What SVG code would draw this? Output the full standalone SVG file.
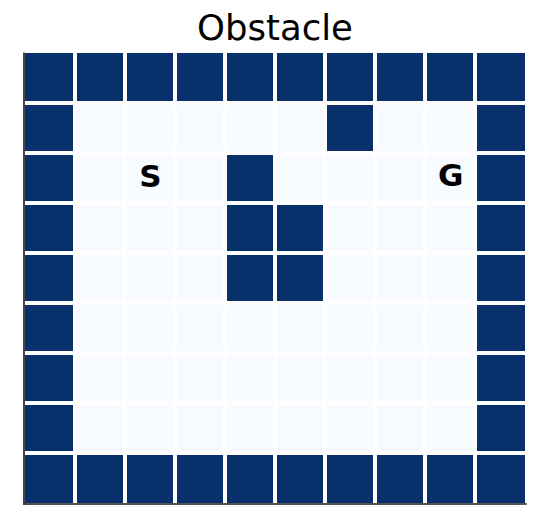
<svg xmlns="http://www.w3.org/2000/svg" width="540" height="528" viewBox="0 0 540 528">
<style>
.d{fill:#08306b}
.l{fill:#f7fbff}
.spine{stroke:#1a1a1a;stroke-width:1.6;fill:none}
.title{font-family:"DejaVu Sans",sans-serif;font-size:35.5px;fill:#000;text-anchor:middle}
.lbl{font-family:"DejaVu Sans",sans-serif;font-size:31px;font-weight:bold;fill:#000;text-anchor:middle}
</style>
<rect width="540" height="528" fill="#fff"/>
<text class="title" x="275" y="40">Obstacle</text>
<g id="row0">
<rect class="d" x="25" y="53" width="48" height="48"/>
<rect class="d" x="77" y="53" width="46" height="48"/>
<rect class="d" x="127" y="53" width="46" height="48"/>
<rect class="d" x="177" y="53" width="46" height="48"/>
<rect class="d" x="227" y="53" width="46" height="48"/>
<rect class="d" x="277" y="53" width="46" height="48"/>
<rect class="d" x="327" y="53" width="46" height="48"/>
<rect class="d" x="377" y="53" width="46" height="48"/>
<rect class="d" x="427" y="53" width="46" height="48"/>
<rect class="d" x="477" y="53" width="48" height="48"/>
</g>
<g id="row1">
<rect class="d" x="25" y="105" width="48" height="46"/>
<rect class="l" x="77" y="105" width="46" height="46"/>
<rect class="l" x="127" y="105" width="46" height="46"/>
<rect class="l" x="177" y="105" width="46" height="46"/>
<rect class="l" x="227" y="105" width="46" height="46"/>
<rect class="l" x="277" y="105" width="46" height="46"/>
<rect class="d" x="327" y="105" width="46" height="46"/>
<rect class="l" x="377" y="105" width="46" height="46"/>
<rect class="l" x="427" y="105" width="46" height="46"/>
<rect class="d" x="477" y="105" width="48" height="46"/>
</g>
<g id="row2">
<rect class="d" x="25" y="155" width="48" height="46"/>
<rect class="l" x="77" y="155" width="46" height="46"/>
<rect class="l" x="127" y="155" width="46" height="46"/>
<rect class="l" x="177" y="155" width="46" height="46"/>
<rect class="d" x="227" y="155" width="46" height="46"/>
<rect class="l" x="277" y="155" width="46" height="46"/>
<rect class="l" x="327" y="155" width="46" height="46"/>
<rect class="l" x="377" y="155" width="46" height="46"/>
<rect class="l" x="427" y="155" width="46" height="46"/>
<rect class="d" x="477" y="155" width="48" height="46"/>
</g>
<g id="row3">
<rect class="d" x="25" y="205" width="48" height="46"/>
<rect class="l" x="77" y="205" width="46" height="46"/>
<rect class="l" x="127" y="205" width="46" height="46"/>
<rect class="l" x="177" y="205" width="46" height="46"/>
<rect class="d" x="227" y="205" width="46" height="46"/>
<rect class="d" x="277" y="205" width="46" height="46"/>
<rect class="l" x="327" y="205" width="46" height="46"/>
<rect class="l" x="377" y="205" width="46" height="46"/>
<rect class="l" x="427" y="205" width="46" height="46"/>
<rect class="d" x="477" y="205" width="48" height="46"/>
</g>
<g id="row4">
<rect class="d" x="25" y="255" width="48" height="46"/>
<rect class="l" x="77" y="255" width="46" height="46"/>
<rect class="l" x="127" y="255" width="46" height="46"/>
<rect class="l" x="177" y="255" width="46" height="46"/>
<rect class="d" x="227" y="255" width="46" height="46"/>
<rect class="d" x="277" y="255" width="46" height="46"/>
<rect class="l" x="327" y="255" width="46" height="46"/>
<rect class="l" x="377" y="255" width="46" height="46"/>
<rect class="l" x="427" y="255" width="46" height="46"/>
<rect class="d" x="477" y="255" width="48" height="46"/>
</g>
<g id="row5">
<rect class="d" x="25" y="305" width="48" height="46"/>
<rect class="l" x="77" y="305" width="46" height="46"/>
<rect class="l" x="127" y="305" width="46" height="46"/>
<rect class="l" x="177" y="305" width="46" height="46"/>
<rect class="l" x="227" y="305" width="46" height="46"/>
<rect class="l" x="277" y="305" width="46" height="46"/>
<rect class="l" x="327" y="305" width="46" height="46"/>
<rect class="l" x="377" y="305" width="46" height="46"/>
<rect class="l" x="427" y="305" width="46" height="46"/>
<rect class="d" x="477" y="305" width="48" height="46"/>
</g>
<g id="row6">
<rect class="d" x="25" y="355" width="48" height="46"/>
<rect class="l" x="77" y="355" width="46" height="46"/>
<rect class="l" x="127" y="355" width="46" height="46"/>
<rect class="l" x="177" y="355" width="46" height="46"/>
<rect class="l" x="227" y="355" width="46" height="46"/>
<rect class="l" x="277" y="355" width="46" height="46"/>
<rect class="l" x="327" y="355" width="46" height="46"/>
<rect class="l" x="377" y="355" width="46" height="46"/>
<rect class="l" x="427" y="355" width="46" height="46"/>
<rect class="d" x="477" y="355" width="48" height="46"/>
</g>
<g id="row7">
<rect class="d" x="25" y="405" width="48" height="46"/>
<rect class="l" x="77" y="405" width="46" height="46"/>
<rect class="l" x="127" y="405" width="46" height="46"/>
<rect class="l" x="177" y="405" width="46" height="46"/>
<rect class="l" x="227" y="405" width="46" height="46"/>
<rect class="l" x="277" y="405" width="46" height="46"/>
<rect class="l" x="327" y="405" width="46" height="46"/>
<rect class="l" x="377" y="405" width="46" height="46"/>
<rect class="l" x="427" y="405" width="46" height="46"/>
<rect class="d" x="477" y="405" width="48" height="46"/>
</g>
<g id="row8">
<rect class="d" x="25" y="455" width="48" height="48"/>
<rect class="d" x="77" y="455" width="46" height="48"/>
<rect class="d" x="127" y="455" width="46" height="48"/>
<rect class="d" x="177" y="455" width="46" height="48"/>
<rect class="d" x="227" y="455" width="46" height="48"/>
<rect class="d" x="277" y="455" width="46" height="48"/>
<rect class="d" x="327" y="455" width="46" height="48"/>
<rect class="d" x="377" y="455" width="46" height="48"/>
<rect class="d" x="427" y="455" width="46" height="48"/>
<rect class="d" x="477" y="455" width="48" height="48"/>
</g>
<g id="start"><text class="lbl" x="150.5" y="186.5">S</text></g>
<g id="goal"><text class="lbl" x="450.8" y="186">G</text></g>
<g id="axes">
<line class="spine" x1="24" y1="52.5" x2="24" y2="504.8"/>
<line class="spine" x1="23.2" y1="504" x2="526.7" y2="504"/>
</g>
</svg>
